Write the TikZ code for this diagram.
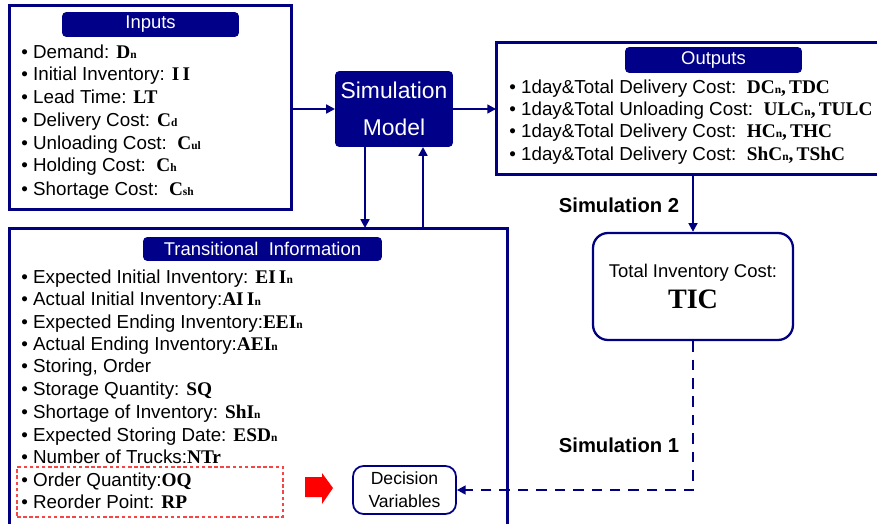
\documentclass[tikz,border=0pt]{standalone}
\usepackage{fontspec}
\setmainfont{Liberation Sans}
\newfontfamily\vfont{Liberation Serif}
\usetikzlibrary{arrows.meta}
\definecolor{navy}{RGB}{0,0,128}
\definecolor{hdnavy}{RGB}{0,0,136}
\definecolor{dvred}{RGB}{245,70,70}
\newcommand{\vb}[1]{{\vfont\bfseries\fontsize{11}{12}\selectfont #1}}
\newcommand{\vn}[2]{{\vfont\bfseries\fontsize{11}{12}\selectfont #1\fontsize{6.5}{7}\selectfont #2}}
\tikzset{%
    frame/.style={draw=navy, line width=1.7pt, inner sep=0pt, outer sep=0pt},
    header/.style={fill=hdnavy, rounded corners=2.5pt, text=white, inner sep=0pt,
        font=\fontsize{10.5}{12}\selectfont},
    item/.style={anchor=base west, inner sep=0pt, font=\fontsize{10.7}{12}\selectfont},
    conn/.style={draw=navy, line width=1.4pt},
    dconn/.style={draw=navy, line width=1.5pt, dash pattern=on 6pt off 4.5pt},
    simlabel/.style={font=\bfseries\fontsize{11.5}{13}\selectfont}
}

\begin{document}
\begin{tikzpicture}[x=0.02cm,y=-0.02cm,>={Triangle[length=5pt,width=5pt]}]
    \useasboundingbox (0,0) rectangle (877,524);
    \clip (0,0) rectangle (877,524);
    % inputs
    \node[frame, minimum width=5.66cm, minimum height=4.1cm] (inputs) at (150.5,107.5) {};
    \node[header, minimum width=3.54cm, minimum height=0.5cm] (inhead) at (150.5,24.5) {Inputs};
    \node[item] (in1) at (21,58) {\textbullet\ Demand: \vn{D}{n}};
    \node[item] (in2) at (21,80) {\textbullet\ Initial Inventory: \vb{I\,I}};
    \node[item] (in3) at (21,103) {\textbullet\ Lead Time: \vb{LT}};
    \node[item] (in4) at (21,126) {\textbullet\ Delivery Cost: \vn{C}{d}};
    \node[item] (in5) at (21,149) {\textbullet\ Unloading Cost:\ \ \vn{C}{ul}};
    \node[item] (in6) at (21,172) {\textbullet\ Holding Cost:\ \ \vn{C}{h}};
    \node[item] (in7) at (21,195) {\textbullet\ Shortage Cost:\ \ \vn{C}{sh}};
    % simulation model
    \node[fill=hdnavy, rounded corners=2.5pt, text=white, align=center,
        minimum width=2.36cm, minimum height=1.52cm, inner sep=0pt, outer sep=0pt,
        font=\fontsize{13}{21}\selectfont] (simmodel) at (394,109) {Simulation\\Model};
    % outputs
    \node[frame, minimum width=8.08cm, minimum height=2.66cm] (outputs) at (698,108.5) {};
    \node[header, minimum width=3.54cm, minimum height=0.52cm] (outhead) at (713.5,60) {Outputs};
    \node[item] (out1) at (509,93) {\textbullet\ 1day\&Total Delivery Cost:\ \ \vn{DC}{n}\vb{,\,TDC}};
    \node[item] (out2) at (509,115) {\textbullet\ 1day\&Total Unloading Cost:\ \ \vn{ULC}{n}\vb{,\,TULC}};
    \node[item] (out3) at (509,137) {\textbullet\ 1day\&Total Delivery Cost:\ \ \vn{HC}{n}\vb{,\,THC}};
    \node[item] (out4) at (509,160) {\textbullet\ 1day\&Total Delivery Cost:\ \ \vn{ShC}{n}\vb{,\,TShC}};
    % transitional information
    \node[frame, minimum width=9.98cm, minimum height=6.32cm] (trans) at (258.5,386) {};
    \node[header, minimum width=4.78cm, minimum height=0.48cm] (transhead) at (262.5,249) {Transitional\ \ Information};
    \node[item] (tr1) at (21,283) {\textbullet\ Expected Initial Inventory: \vn{EI\,I}{n}};
    \node[item] (tr2) at (21,305) {\textbullet\ Actual Initial Inventory:\vn{AI\,I}{n}};
    \node[item] (tr3) at (21,328) {\textbullet\ Expected Ending Inventory:\vn{EEI}{n}};
    \node[item] (tr4) at (21,350) {\textbullet\ Actual Ending Inventory:\vn{AEI}{n}};
    \node[item] (tr5) at (21,372) {\textbullet\ Storing, Order};
    \node[item] (tr6) at (21,395) {\textbullet\ Storage Quantity: \vb{SQ}};
    \node[item] (tr7) at (21,418) {\textbullet\ Shortage of Inventory: \vn{ShI}{n}};
    \node[item] (tr8) at (21,441) {\textbullet\ Expected Storing Date: \vn{ESD}{n}};
    \node[item] (tr9) at (21,463) {\textbullet\ Number of Trucks:\vb{NTr}};
    \node[item] (tr10) at (21,486) {\textbullet\ Order Quantity:\vb{OQ}};
    \node[item] (tr11) at (21,508) {\textbullet\ Reorder Point: \vb{RP}};
    \node[draw=dvred, dash pattern=on 2pt off 1.5pt, line width=0.6pt, minimum width=5.32cm, minimum height=1cm] (dvlist) at (150,492) {};
    \fill[red] (305,477) -- (322,477) -- (322,473) -- (333,488) -- (322,504) -- (322,497) -- (305,497) -- cycle;
    % decision variables and total cost
    \node[draw=navy, line width=1pt, rounded corners=6pt, align=center, inner sep=0pt,
        minimum width=2.06cm, minimum height=0.96cm,
        font=\fontsize{10}{13}\selectfont] (decvar) at (404.5,490) {Decision\\Variables};
    \node[draw=navy, line width=1.3pt, rounded corners=0.3cm, align=center, inner sep=0pt,
        minimum width=4cm, minimum height=2.14cm] (tic) at (693,286.5)
        {\fontsize{10.5}{13}\selectfont Total Inventory Cost:\\[4pt]{\vfont\bfseries\fontsize{16}{18}\selectfont TIC}};
    \node[simlabel] (sim2) at (619,205) {Simulation 2};
    \node[simlabel] (sim1) at (619,445) {Simulation 1};
    % connectors
    \draw[conn,->] (inputs.east |- simmodel) -- (simmodel.west);
    \draw[conn,->] (simmodel.east) -- (outputs.west |- simmodel);
    \draw[conn,->] ([xshift=-0.58cm]simmodel.south) -- ([xshift=-0.58cm]simmodel.south |- trans.north);
    \draw[conn,->] ([xshift=0.58cm]simmodel.south |- trans.north) -- ([xshift=0.58cm]simmodel.south);
    \draw[conn,->] (tic.north |- outputs.south) -- (tic.north);
    \draw[dconn,->] (tic.south) |- (decvar.east);
\end{tikzpicture}
\end{document}
